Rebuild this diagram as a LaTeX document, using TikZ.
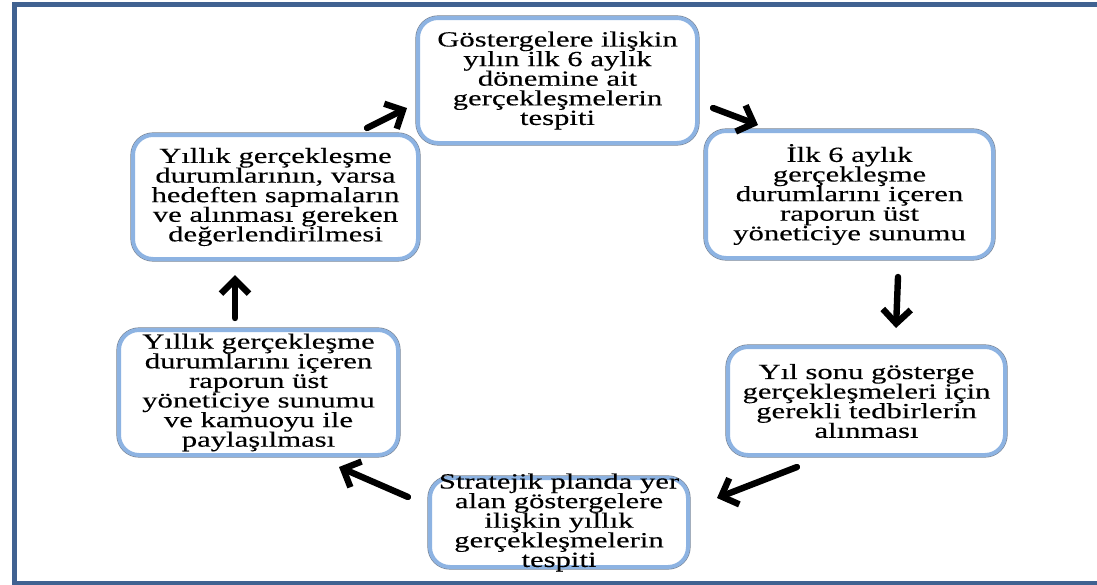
\documentclass[tikz,border=0pt]{standalone}
\usepackage{fontspec}
\setmainfont[FakeStretch=1.42,FakeBold=0.25]{Liberation Serif}
\usetikzlibrary{arrows.meta}

\definecolor{frameblue}{RGB}{64,98,145}
\definecolor{boxblue}{RGB}{141,179,226}
\definecolor{boxrim}{RGB}{120,130,145}
\newcommand{\stepfont}{\fontsize{10.8}{9.8}\selectfont\lineskiplimit=-5pt\relax}

\begin{document}
\begin{tikzpicture}[x=0.5pt,y=-0.5pt,-{Straight Barb[length=7pt,width=14pt]},line width=3.2pt,line cap=round]
		\tikzstyle{stepbox}=[rectangle,rounded corners=10pt,draw=boxblue,line width=2pt,fill=white,
			preaction={draw=boxrim,line width=2.6pt},inner sep=0pt,align=center,font=\stepfont]
		\tikzstyle{steptext}=[inner sep=0pt,align=center,font=\stepfont]

		\useasboundingbox (0,0) rectangle (1097,584);
		\clip (0,0) rectangle (1097,584);
		\draw[-,frameblue,line width=2.5pt,line cap=butt] (14.5,4.5) rectangle (1110,583.5);

		\node[stepbox,minimum width=139.5pt,minimum height=62.5pt] (A) at (557.5,80.5)
			{Göstergelere ilişkin\\yılın ilk 6 aylık\\dönemine ait\\gerçekleşmelerin\\tespiti};
		\node[stepbox,minimum width=143.5pt,minimum height=63.5pt] (B) at (849.5,194.5)
			{İlk 6 aylık\\gerçekleşme\\durumlarını içeren\\raporun üst\\yöneticiye sunumu};
		\node[stepbox,minimum width=138.5pt,minimum height=54pt] (C) at (866.5,401)
			{Yıl sonu gösterge\\gerçekleşmeleri için\\gerekli tedbirlerin\\alınması};
		\node[stepbox,minimum width=129pt,minimum height=44.5pt] (D) at (559,522.5) {};
		\node[steptext] (Dtext) at (D)
			{Stratejik planda yer\\alan göstergelere\\ilişkin yıllık\\gerçekleşmelerin\\tespiti};
		\node[stepbox,minimum width=139.5pt,minimum height=62.5pt] (E) at (258.5,392.5)
			{Yıllık gerçekleşme\\durumlarını içeren\\raporun üst\\yöneticiye sunumu\\ve kamuoyu ile\\paylaşılması};
		\node[stepbox,minimum width=142.5pt,minimum height=62pt] (F) at (275.5,197)
			{Yıllık gerçekleşme\\durumlarının, varsa\\hedeften sapmaların\\ve alınması gereken\\değerlendirilmesi};

		\coordinate (FA1) at (367,128);	\coordinate (FA2) at (407,108);
		\coordinate (AB1) at (713,108);	\coordinate (AB2) at (758,125);
		\coordinate (BC1) at (898,277);	\coordinate (BC2) at (896,328);
		\coordinate (CD1) at (797,467);	\coordinate (CD2) at (717,498);
		\coordinate (DE1) at (408,497);	\coordinate (DE2) at (339,467);
		\coordinate (EF1) at (235,318);	\coordinate (EF2) at (235,275);

		\path (FA1) edge (FA2)
			 (AB1) edge (AB2)
			 (BC1) edge (BC2)
			 (CD1) edge (CD2)
			 (DE1) edge (DE2)
			 (EF1) edge (EF2);

	\end{tikzpicture}
\end{document}
